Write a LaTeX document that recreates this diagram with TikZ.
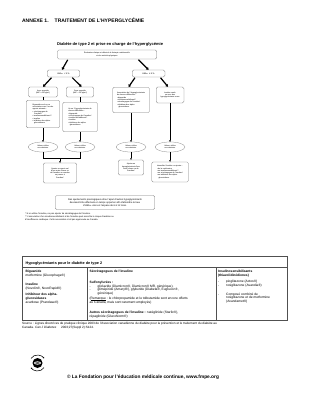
\documentclass[tikz,border=0pt]{standalone}
\usepackage{fontspec}
\setmainfont{Liberation Sans}
\usetikzlibrary{arrows.meta,positioning,calc,shapes.geometric}
\definecolor{bxline}{HTML}{7A7A7A}
\definecolor{tabline}{HTML}{505050}
\newcommand{\fsz}[2]{\fontsize{#1}{#2}\selectfont}
\newcommand{\puce}{\makebox[16pt][l]{-}}

\begin{document}
\begin{tikzpicture}[x=0.06987cm,y=-0.06985cm,
  bx/.style={draw=bxline,line width=0.5pt,rounded corners=3pt,fill=white,align=center,inner sep=1pt,font=\fsz{3.7}{4.5}},
  lst/.style={bx,align=left},
  el/.style={ellipse,draw=bxline,line width=0.5pt,fill=white,align=center,inner sep=0pt,minimum width=59pt,minimum height=20pt,font=\fsz{3.7}{4.5}},
  dg/.style={line width=2.4pt,shorten <=1.5pt,-{Triangle[length=4.5pt,width=6pt]}},
  vl/.style={line width=1.6pt,-{Triangle[length=3pt,width=4pt]}},
  tl/.style={line width=0.9pt,-{Triangle[length=3pt,width=3.5pt]}},
  tb/.style={anchor=base west,inner sep=0pt,align=left,font=\fsz{6.5}{7.6}}]
\useasboundingbox (0,0) rectangle (309,400);
\fill[white] (0,0) rectangle (309,400);

% en-tete
\node[anchor=base west,inner sep=0pt,font=\bfseries\fsz{10}{12}] (annexe) at (22,22.8) {ANNEXE 1.\hspace{1.2em}TRAITEMENT DE L'HYPERGLYCÉMIE};
\node[anchor=base,inner sep=0pt,font=\bfseries\fsz{8}{9}] (titre) at (110,45.5) {Diabète de type 2 et prise en charge de l'hyperglycémie};

% algorithme
\node[bx,minimum width=198pt,minimum height=18pt] (eval) at (107,54.5) {Évaluation clinique et début de la thérapie nutritionnelle\\et des activités physiques};
\node[bx,minimum width=65pt,minimum height=14pt,font=\fsz{4.3}{5}] (hbbas) at (63.5,73.5) {HbA\textsubscript{1c} < 9 \%};
\node[bx,minimum width=65pt,minimum height=14pt,font=\fsz{4.3}{5}] (hbhaut) at (148.5,73.5) {HbA\textsubscript{1c} ≥ 9 \%};

\node[bx,minimum width=58pt,minimum height=20pt] (avecsp) at (43,92) {Avec surpoids\\(IMC ≥ 25 kg/m²)};
\node[bx,minimum width=55pt,minimum height=20pt] (sanssp) at (80,92) {Sans surpoids\\(IMC < 25 kg/m²)};
\node[lst,minimum width=73pt,minimum height=51pt] (comb) at (131,100) {Association de 2 hypoglycémiants\\de classes différentes :\\• biguanide\\• insulinosensibilisant**\\• sécrétagogue de l'insuline*\\• inhibiteur des alpha-\\\hspace*{3pt}glucosidases};
\node[bx,minimum width=55pt,minimum height=32pt] (insu) at (170,95) {Insuline seule\\ou avec des\\hypoglycémiants oraux};

\node[lst,minimum width=67pt,minimum height=55pt] (avecrx) at (43,114) {Biguanide seul ou en\\association avec l'un des\\agents suivants :\\• sécrétagogue de\\\hspace*{3pt}l'insuline*\\• insulinosensibilisant**\\• insuline\\• inhibiteur des alpha-\\\hspace*{3pt}glucosidases};
\node[lst,minimum width=69pt,minimum height=59pt] (sansrx) at (80,117) {Un ou 2 hypoglycémiants de\\classes différentes :\\• biguanide\\• sécrétagogue de l'insuline*\\• insulinosensibilisant**\\• insuline\\• inhibiteur des alpha-\\\hspace*{3pt}glucosidases};

\node[el] (ciblea) at (43,147) {Valeurs cibles\\non atteintes};
\node[el] (cibleb) at (80,147) {Valeurs cibles\\non atteintes};
\node[el] (ciblec) at (131,147) {Valeurs cibles\\non atteintes};
\node[el] (cibled) at (170,147) {Valeurs cibles\\non atteintes};

\coordinate (mrg) at (60,158);
\node[bx,minimum width=67pt,minimum height=40pt] (ajouta) at (60,173) {Ajouter un agent oral\\d'une autre classe ou\\de l'insuline au coucher\\ou passer à\\l'insuline*};
\node[bx,minimum width=51pt,minimum height=30pt] (ajoutc) at (131,167.5) {Ajouter un\\hypoglycémiant d'une\\autre classe ou de\\l'insuline*};
\node[lst,minimum width=73pt,minimum height=40pt] (ajoutd) at (170,172) {Intensifier l'insuline ou ajouter :\\• de la metformine\\• un insulinosensibilisant**\\• un sécrétagogue de l'insuline*\\• un inhibiteur des alpha-\\\hspace*{3pt}glucosidases};

\node[bx,minimum width=198pt,minimum height=28pt,font=\fsz{4.8}{5.8}] (ajust) at (105,202.5) {Des ajustements posologiques et/ou l'ajout d'autres hypoglycémiants\\devraient être effectués en temps opportun afin d'atteindre le taux\\d'HbA\textsubscript{1c} visé en l'espace de 6 à 12 mois.};
% base = derniere ligne
\node[anchor=base west,inner sep=0pt,align=left,font=\fsz{4.3}{6}] (notes) at (25,220.6) {* Si on utilise l'insuline, ne pas ajouter de sécrétagogue de l'insuline.\\** L'association d'un insulinosensibilisant et de l'insuline peut accroître le risque d'œdème ou\\d'insuffisance cardiaque. Cette association n'est pas approuvée au Canada.};

\draw[dg] ($(eval.south west)!0.11!(eval.south east)$) -- ([xshift=-3pt]hbbas.north);
\draw[dg] ($(eval.south west)!0.81!(eval.south east)$) -- (hbhaut.north);
\draw[dg] ($(hbbas.south west)!0.15!(hbbas.south east)$) -- (avecsp.north);
\draw[dg] ($(hbbas.south west)!0.75!(hbbas.south east)$) -- ([xshift=3pt]sanssp.north);
\draw[dg] ($(hbhaut.south west)!0.1!(hbhaut.south east)$) -- ([xshift=-5pt]comb.north);
\draw[dg] ($(hbhaut.south west)!0.85!(hbhaut.south east)$) -- ([xshift=-4pt]insu.north);

\draw[line width=1.6pt] (avecsp) -- (avecrx);
\draw[line width=1.6pt] (sanssp) -- (sansrx);
\draw[vl] (avecrx) -- (ciblea);
\draw[vl] (sansrx) -- (cibleb);
\draw[vl] (comb) -- (ciblec);
\draw[vl] (insu) -- (cibled);
\draw[line width=1.2pt] (ciblea.south) |- (mrg);
\draw[line width=1.2pt] (cibleb.south) |- (mrg);
\draw[tl] (mrg) -- (ajouta);
\draw[tl] (ciblec) -- (ajoutc);
\draw[tl] (cibled) -- (ajoutd);

% tableau
\draw[tabline,line width=0.9pt] (22,256) rectangle (287,320);
\draw[tabline,line width=0.9pt] (22,267) -- (287,267);
\draw[tabline,line width=0.9pt] (87,267) -- (87,320);
\draw[tabline,line width=0.9pt] (216,267) -- (216,320);
\node[anchor=base west,inner sep=0pt,font=\bfseries\fsz{7.5}{9}] (tabtitre) at (25.5,264.3) {Hypoglycémiants pour le diabète de type 2};

\node[tb] (bigu) at (25.5,276.6) {\textbf{Biguanide}\\metformine (Glucophage\textregistered)};
\node[tb] (insl) at (25.5,289.6) {\textbf{Insuline}\\(Novolin\textregistered, NovoRapid\textregistered)};
\node[tb] (inhib) at (25.5,303.5) {\textbf{Inhibiteur des alpha-}\\\textbf{glucosidases}\\acarbose (Prandase\textregistered)};

\node[tb] (secr) at (89.5,272.8) {\textbf{Sécrétagogues de l'insuline}};
\node[tb] (sulfo) at (89.5,294.8) {\textbf{Sulfonylurées :}\\\puce gliclazide (Diamicron\textregistered, Diamicron\textregistered{} MR, générique),\\\puce glimépiride (Amaryl\textregistered), glyburide (Diabeta\textregistered, Euglucon\textregistered,\\\hspace*{16pt}générique)};
\node[tb] (rmq) at (89.5,303.8) {(\underline{Remarque} : le chlorpropamide et le tolbutamide sont encore offerts\\au Canada, mais sont rarement employés)};
\node[tb] (autres) at (89.5,317.6) {\textbf{Autres sécrétagogues de l'insuline :} natéglinide (Starlix\textregistered),\\répaglinide (GlucoNorm\textregistered)};

\node[tb] (sensib) at (218,276.8) {\textbf{Insulinosensibilisants}\\\textbf{(thiazolidinédiones)}};
\node[tb] (tzd) at (218,286.1) {\puce pioglitazone (Actos\textregistered)\\\puce rosiglitazone (Avandia\textregistered)};
\node[tb] (avdm) at (218,302.7) {\puce Composé combiné de\\\hspace*{16pt}rosiglitazone et de metformine\\\hspace*{16pt}(Avandamet\textregistered)};

\node[anchor=base west,inner sep=0pt,align=left,font=\fsz{6.2}{7.8}] (source) at (22,328.9) {Source : Lignes directrices de pratique clinique 2003 de l'Association canadienne du diabète pour la prévention et le traitement du diabète au\\Canada. \textit{Can J Diabetes}\hspace{1.5em}2003;27(Suppl 2):S124.};

% pied de page
\coordinate (logo) at (37.5,363);
\fill (logo) circle (5);
\fill[white] (logo) ellipse (3.6 and 1.6);
\fill (logo) ellipse (2.6 and 0.6);
\draw[line width=1.1pt,-{Triangle[length=2.5pt,width=3pt]}] ([shift={(35:8)}]logo) arc (35:145:8);
\draw[line width=1.1pt,-{Triangle[length=2.5pt,width=3pt]}] ([shift={(215:8)}]logo) arc (215:325:8);
\node[anchor=base west,inner sep=0pt,font=\bfseries\fsz{9.5}{11}] (fmpe) at (67,378.5) {© La Fondation pour l'éducation médicale continue, www.fmpe.org};
\end{tikzpicture}
\end{document}
